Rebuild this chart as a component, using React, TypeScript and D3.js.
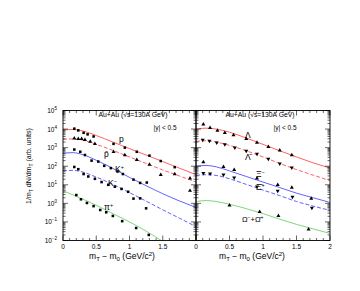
import React from "react";
import * as d3 from "d3";

// ---- left panel: p, pbar, K+, K-, pi+ ----
const curveX = [0, 0.15, 0.3, 0.5, 0.75, 1, 1.25, 1.5, 1.75, 2];
const pCurve = [8900, 9500, 7900, 4500, 2000, 890, 400, 178, 79, 35];
const pbarCurve = [2800, 2950, 2500, 1500, 710, 316, 141, 63, 30, 14];
const kpCurve = [500, 537, 417, 209, 76, 25, 8.9, 3.3, 1.35, 0.6];
const kmCurve = [56, 60, 48, 26, 10.5, 3.8, 1.32, 0.45, 0.16, 0.056];
const piCurveX = [0, 0.25, 0.5, 0.75, 1, 1.25, 1.5];
const piCurve = [4.8, 2.0, 0.79, 0.28, 0.1, 0.032, 0.0089];

const pX = [0.17, 0.23, 0.31, 0.37, 0.46, 0.76, 0.93, 1.11, 1.3, 1.47, 1.68];
const pY = [10500, 8500, 6300, 5200, 4000, 1600, 1000, 600, 370, 190, 89];
const pbarX = [0.17, 0.23, 0.28, 0.33, 0.41, 0.48, 0.76, 0.93, 1.11, 1.3, 1.47, 1.68, 1.91, 1.91];
const pbarY = [3200, 2950, 2950, 2600, 2100, 1600, 600, 400, 220, 123, 34, 38, 22, 4.8];
const kpX = [0.17, 0.26, 0.33, 0.43, 0.53, 0.62, 0.72, 0.82, 0.9, 1.06, 1.16, 1.26];
const kpY = [790, 600, 400, 200, 178, 105, 79, 52, 38, 19, 12.6, 13.2];
const kmX = [0.17, 0.23, 0.31, 0.38, 0.48, 0.58, 0.68, 0.78, 0.88, 0.98, 1.06, 1.16, 1.25];
const kmY = [91, 69, 38, 28, 21, 14, 10, 7.9, 6.0, 4.2, 1.8, 1.86, 0.54];
const piX = [0.2, 0.27, 0.36, 0.46, 0.56, 0.65, 0.75, 0.89, 1.1, 1.29];
const piY = [2.8, 1.66, 1.05, 0.71, 0.44, 0.33, 0.21, 0.11, 0.047, 0.02];

// ---- right panel: Lambda, Lambdabar, Xi-, Xibar+, Omega ----
const lamCurve = [10000, 11200, 10000, 6800, 3300, 1500, 680, 316, 151, 79];
const lambarCurve = [2140, 2340, 2000, 1320, 680, 316, 141, 66, 33, 16.6];
const ximCurve = [100, 110, 93, 56, 28, 14, 7.1, 3.55, 2.0, 1.12];
const xipCurve = [32, 35, 32, 21, 10.5, 5.2, 2.6, 1.26, 0.71, 0.42];
const omCurve = [1.26, 1.41, 1.26, 0.89, 0.52, 0.28, 0.14, 0.074, 0.042, 0.024];

const lamX = [0.11, 0.21, 0.32, 0.43, 0.56, 0.75, 0.91, 1.08, 1.25, 1.43];
const lamY = [18200, 11500, 8300, 6300, 4800, 2950, 1860, 1120, 710, 400];
const lambarX = [0.1, 0.2, 0.31, 0.43, 0.58, 0.75, 0.91, 1.08, 1.25, 1.43];
const lambarY = [2570, 2290, 1860, 1510, 1000, 660, 457, 245, 138, 83];
const ximX = [0.11, 0.41, 0.57, 0.91, 1.22, 1.43, 1.72];
const ximY = [166, 93, 63, 22, 10, 7.1, 1.8];
const xipX = [0.11, 0.21, 0.41, 0.57, 0.91, 1.22, 1.44, 1.73];
const xipY = [42, 40, 35, 24, 7.9, 4.7, 2.24, 0.56];
const omX = [0.5, 0.95, 1.23, 1.68];
const omY = [0.79, 0.35, 0.21, 0.04];

const yDecades = [-2, -1, 0, 1, 2, 3, 4, 5];
const leftTickLabels = ["0", "0.5", "1", "1.5"];
const rightTickLabels = ["0", "0.5", "1", "1.5", "2"];

const W = 360;
const H = 291;
const top = 110.5;
const bottom = 240.5;
const x0 = 63;
const xMid = 196;
const x1 = 330;

const RED = "#ff5050";
const BLUE = "#5050ff";
const GREEN = "#70d070";
const FONT = "Liberation Sans, Arial, sans-serif";

const y = d3.scaleLog().domain([1e-2, 1e5]).range([bottom, top]);
const xL = d3.scaleLinear().domain([0, 2]).range([x0, xMid]);
const xR = d3.scaleLinear().domain([0, 2]).range([xMid, x1]);

const zip = (xs: number[], ys: number[]) => xs.map((v, i) => [v, ys[i]] as [number, number]);

function Curve({ xs, ys, sx, color, dash, clip }: any) {
  const line = d3
    .line<[number, number]>()
    .x((d) => sx(d[0]))
    .y((d) => y(d[1]))
    .curve(d3.curveMonotoneX);
  return (
    <path
      d={line(zip(xs, ys)) || ""}
      fill="none"
      stroke={color}
      strokeWidth={0.9}
      strokeDasharray={dash}
      clipPath={`url(#${clip})`}
    />
  );
}

function Marks({ xs, ys, sx, shape }: any) {
  const sym =
    shape === "square"
      ? d3.symbol(d3.symbolSquare, 6.5)
      : d3.symbol(d3.symbolTriangle, 7);
  return (
    <g>
      {zip(xs, ys).map((d, i) => (
        <path
          key={i}
          d={sym() || ""}
          transform={`translate(${sx(d[0])},${y(d[1])})${shape === "down" ? " rotate(180)" : ""}`}
          fill="black"
        />
      ))}
    </g>
  );
}

function Frame({ sx, left, right }: any) {
  const ticks: JSX.Element[] = [];
  // log y ticks on both vertical edges
  yDecades.forEach((dec) => {
    for (let k = 1; k <= 9; k++) {
      const v = k * Math.pow(10, dec);
      if (dec === 5 && k > 1) continue;
      const yy = y(v);
      const len = k === 1 ? 5 : 2.5;
      ticks.push(<line key={`l${dec}${k}`} x1={left} x2={left + len} y1={yy} y2={yy} />);
      ticks.push(<line key={`r${dec}${k}`} x1={right} x2={right - len} y1={yy} y2={yy} />);
    }
  });
  // x ticks top and bottom
  d3.range(0, 2.0001, 0.1).forEach((v, i) => {
    const xx = sx(v);
    const len = i % 5 === 0 ? 5 : 2.5;
    ticks.push(<line key={`b${i}`} x1={xx} x2={xx} y1={bottom} y2={bottom - len} />);
    ticks.push(<line key={`t${i}`} x1={xx} x2={xx} y1={top} y2={top + len} />);
  });
  return (
    <g stroke="black" strokeWidth={0.6}>
      <rect x={left} y={top} width={right - left} height={bottom - top} fill="none" strokeWidth={0.9} />
      {ticks}
    </g>
  );
}

function XTitle({ cx }: { cx: number }) {
  return (
    <text x={cx} y={259} textAnchor="middle" fontSize={8.5}>
      m<tspan fontSize={6} dy={2}>T</tspan>
      <tspan dy={-2}> − m</tspan>
      <tspan fontSize={6} dy={2}>0</tspan>
      <tspan dy={-2}> (GeV/c</tspan>
      <tspan fontSize={6} dy={-3}>2</tspan>
      <tspan dy={3}>)</tspan>
    </text>
  );
}

export default function App() {
  return (
    <div style={{ position: "absolute", left: 0, top: 0 }}>
      <svg width={W} height={H} style={{ display: "block", background: "white" }} fontFamily={FONT}>
        <defs>
          <clipPath id="clipL">
            <rect x={x0} y={top} width={xMid - x0} height={bottom - top} />
          </clipPath>
          <clipPath id="clipR">
            <rect x={xMid} y={top} width={x1 - xMid} height={bottom - top} />
          </clipPath>
        </defs>

        {/* left panel curves */}
        <Curve xs={curveX} ys={pCurve} sx={xL} color={RED} clip="clipL" />
        <Curve xs={curveX} ys={pbarCurve} sx={xL} color={RED} dash="4,2" clip="clipL" />
        <Curve xs={curveX} ys={kpCurve} sx={xL} color={BLUE} clip="clipL" />
        <Curve xs={curveX} ys={kmCurve} sx={xL} color={BLUE} dash="4,2" clip="clipL" />
        <Curve xs={piCurveX} ys={piCurve} sx={xL} color={GREEN} clip="clipL" />

        {/* right panel curves */}
        <Curve xs={curveX} ys={lamCurve} sx={xR} color={RED} clip="clipR" />
        <Curve xs={curveX} ys={lambarCurve} sx={xR} color={RED} dash="4,2" clip="clipR" />
        <Curve xs={curveX} ys={ximCurve} sx={xR} color={BLUE} clip="clipR" />
        <Curve xs={curveX} ys={xipCurve} sx={xR} color={BLUE} dash="4,2" clip="clipR" />
        <Curve xs={curveX} ys={omCurve} sx={xR} color={GREEN} clip="clipR" />

        <Marks xs={pX} ys={pY} sx={xL} shape="square" />
        <Marks xs={pbarX} ys={pbarY} sx={xL} shape="up" />
        <Marks xs={kpX} ys={kpY} sx={xL} shape="square" />
        <Marks xs={kmX} ys={kmY} sx={xL} shape="square" />
        <Marks xs={piX} ys={piY} sx={xL} shape="square" />

        <Marks xs={lamX} ys={lamY} sx={xR} shape="up" />
        <Marks xs={lambarX} ys={lambarY} sx={xR} shape="down" />
        <Marks xs={ximX} ys={ximY} sx={xR} shape="up" />
        <Marks xs={xipX} ys={xipY} sx={xR} shape="down" />
        <Marks xs={omX} ys={omY} sx={xR} shape="up" />

        <Frame sx={xL} left={x0} right={xMid} />
        <Frame sx={xR} left={xMid} right={x1} />

        {/* y tick labels */}
        {yDecades.map((d) => (
          <text key={d} x={57} y={y(Math.pow(10, d)) + 2.5} textAnchor="end" fontSize={6.5}>
            10<tspan fontSize={4.5} dy={-3}>{d < 0 ? `−${-d}` : d}</tspan>
          </text>
        ))}

        {/* x tick labels */}
        {leftTickLabels.map((t, i) => (
          <text key={`xl${i}`} x={xL(i * 0.5)} y={249} textAnchor="middle" fontSize={6.5}>
            {t}
          </text>
        ))}
        {rightTickLabels.map((t, i) => (
          <text key={`xr${i}`} x={xR(i * 0.5)} y={249} textAnchor="middle" fontSize={6.5}>
            {t}
          </text>
        ))}

        <XTitle cx={122} />
        <XTitle cx={252} />

        <text transform="translate(31,166) rotate(-90)" textAnchor="middle" fontSize={7}>
          1/m<tspan fontSize={5} dy={1.5}>T</tspan>
          <tspan dy={-1.5}> dN/dm</tspan>
          <tspan fontSize={5} dy={1.5}>T</tspan>
          <tspan dy={-1.5}> (arb. units)</tspan>
        </text>

        {/* panel headers */}
        <text x={133} y={117} textAnchor="middle" fontSize={6.8}>Au+Au (√s=130A GeV)</text>
        <text x={165} y={130} textAnchor="middle" fontSize={6.5}>|y| &lt; 0.5</text>
        <text x={260} y={117} textAnchor="middle" fontSize={6.8}>Au+Au (√s=130A GeV)</text>
        <text x={285} y={130} textAnchor="middle" fontSize={6.5}>|y| &lt; 0.5</text>

        {/* particle labels */}
        <g fontSize={8.5}>
          <text x={119} y={142}>p</text>
          <text x={104} y={157}>p̄</text>
          <text x={115} y={172}>K<tspan fontSize={5.5} dy={-3}>+</tspan></text>
          <text x={108} y={186}>K<tspan fontSize={5.5} dy={-3}>−</tspan></text>
          <text x={104} y={210}>π<tspan fontSize={5.5} dy={-3}>+</tspan></text>
          <text x={245} y={138}>Λ</text>
          <text x={245} y={160}>Λ̄</text>
          <text x={256} y={177}>Ξ<tspan fontSize={5.5} dy={-3}>−</tspan></text>
          <text x={256} y={190}>Ξ̄<tspan fontSize={5.5} dy={-3}>+</tspan></text>
          <text x={242} y={222} fontSize={7.5}>Ω<tspan fontSize={5} dy={-3}>−</tspan><tspan dy={3}>+Ω̄</tspan><tspan fontSize={5} dy={-3}>+</tspan></text>
        </g>
      </svg>
    </div>
  );
}
